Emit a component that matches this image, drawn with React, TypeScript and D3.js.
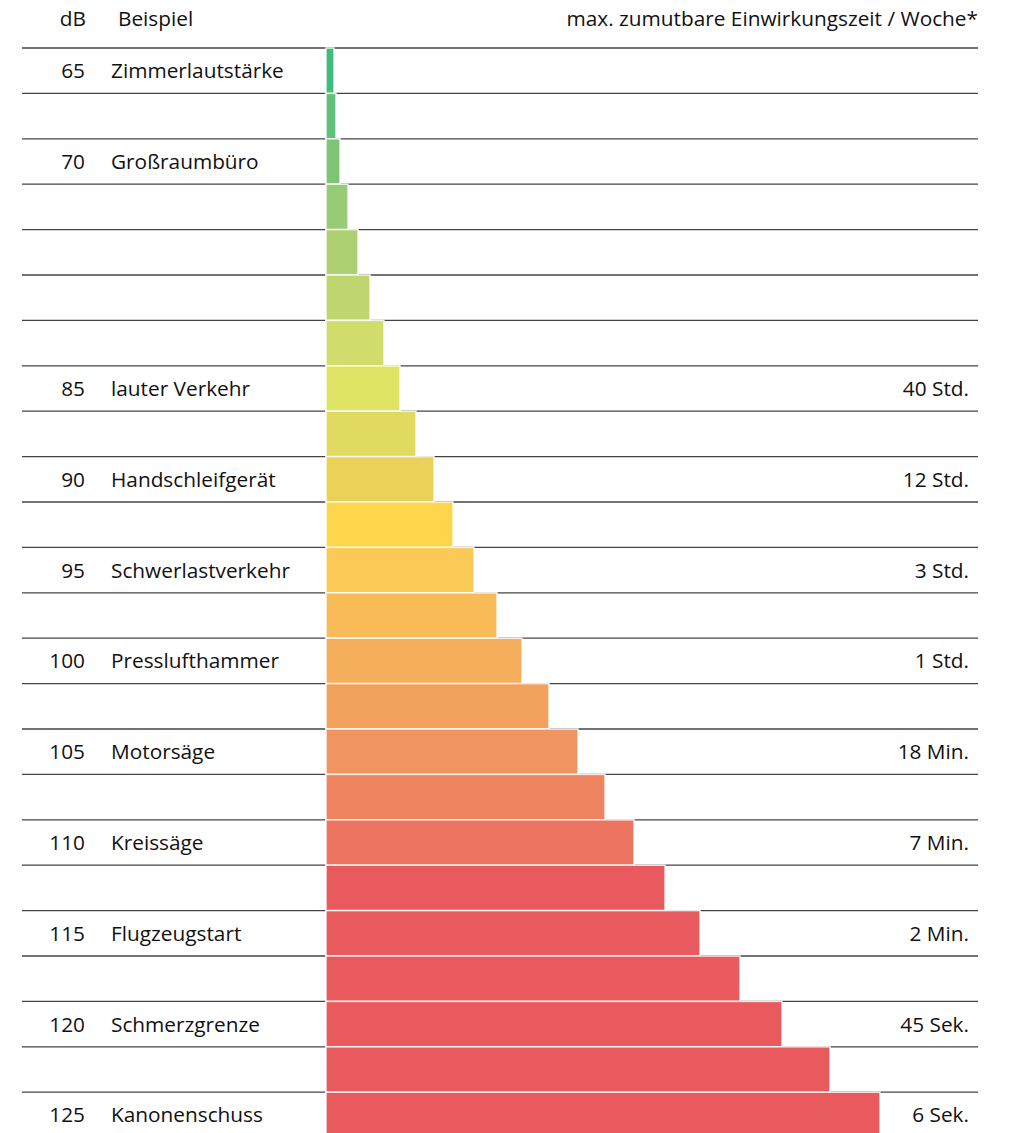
import { useEffect, useRef } from 'react';
import * as d3 from 'd3';

// rows top to bottom
const dbLabels = ['65', '', '70', '', '', '', '', '85', '', '90', '', '95', '', '100', '', '105', '', '110', '', '115', '', '120', '', '125'];
const examples = ['Zimmerlautstärke', '', 'Großraumbüro', '', '', '', '', 'lauter Verkehr', '', 'Handschleifgerät', '', 'Schwerlastverkehr', '', 'Presslufthammer', '', 'Motorsäge', '', 'Kreissäge', '', 'Flugzeugstart', '', 'Schmerzgrenze', '', 'Kanonenschuss'];
const exposure = ['', '', '', '', '', '', '', '40 Std.', '', '12 Std.', '', '3 Std.', '', '1 Std.', '', '18 Min.', '', '7 Min.', '', '2 Min.', '', '45 Sek.', '', '6 Sek.'];
// bar lengths (relative units)
const barValues = [8, 10, 14, 22, 32, 44, 58, 74, 90, 108, 127, 148, 171, 196, 223, 252, 279, 308, 339, 374, 414, 456, 504, 554];
const barColors = ['#40bd7c', '#62c07a', '#7dc477', '#97cb75', '#aed073', '#bfd570', '#d0dd6d', '#dfe464', '#e1da60', '#ecd158', '#fed64c', '#fbc955', '#f8bb58', '#f5ae5c', '#f2a25d', '#f09562', '#ef8460', '#ec7461', '#e95a5f', '#e95a5f', '#e95a5f', '#e95a5f', '#e95a5f', '#e95a5f'];

const FONT = "'Open Sans', 'Noto Sans', sans-serif";

export default function App() {
    let ref = useRef<SVGSVGElement>(null);

    useEffect(() => {
        document.body.style.margin = '0';
        const svg = d3.select(ref.current);
        svg.selectAll('*').remove();

        const rowTop = 48;
        const step = 45.4;
        const idx = d3.range(barValues.length);

        const y = d3.scaleBand<number>()
            .domain(idx)
            .range([rowTop, rowTop + step * idx.length])
            .padding(0);

        const x = d3.scaleLinear()
            .domain([0, 554])
            .range([326, 880]);

        // header
        const header = svg.append('g')
            .style('font-family', FONT)
            .style('font-size', '20.8px')
            .attr('fill', '#111');
        header.append('text').attr('x', 86).attr('y', 26).attr('text-anchor', 'end').text('dB');
        header.append('text').attr('x', 118).attr('y', 26).text('Beispiel');
        header.append('text').attr('x', 978).attr('y', 26).attr('text-anchor', 'end').text('max. zumutbare Einwirkungszeit / Woche*');

        // row lines
        svg.append('g').selectAll('line')
            .data(idx)
            .join('line')
            .attr('x1', 22)
            .attr('x2', 978)
            .attr('y1', d => y(d)!)
            .attr('y2', d => y(d)!)
            .attr('stroke', '#444')
            .attr('stroke-width', 1.3);

        // bars
        svg.append('g').selectAll('rect')
            .data(idx)
            .join('rect')
            .attr('x', x(0))
            .attr('y', d => y(d)!)
            .attr('width', d => x(barValues[d]) - x(0))
            .attr('height', y.bandwidth())
            .attr('fill', d => barColors[d])
            .attr('stroke', '#ffffff')
            .attr('stroke-opacity', 0.85)
            .attr('stroke-width', 1.5);

        const rows = svg.append('g')
            .style('font-family', FONT)
            .style('font-size', '20.8px')
            .attr('fill', '#111');

        rows.selectAll('text.db')
            .data(idx.filter(i => dbLabels[i]))
            .join('text')
            .attr('class', 'db')
            .attr('x', 85)
            .attr('y', d => y(d)! + y.bandwidth() / 2)
            .attr('dy', '0.36em')
            .attr('text-anchor', 'end')
            .text(d => dbLabels[d]);

        rows.selectAll('text.ex')
            .data(idx.filter(i => examples[i]))
            .join('text')
            .attr('class', 'ex')
            .attr('x', 111)
            .attr('y', d => y(d)! + y.bandwidth() / 2)
            .attr('dy', '0.36em')
            .text(d => examples[d]);

        rows.selectAll('text.time')
            .data(idx.filter(i => exposure[i]))
            .join('text')
            .attr('class', 'time')
            .attr('x', 969)
            .attr('y', d => y(d)! + y.bandwidth() / 2)
            .attr('dy', '0.36em')
            .attr('text-anchor', 'end')
            .text(d => exposure[d]);
    }, []);

    return <svg ref={ref} width={1011} height={1133} style={{ display: 'block', background: '#fff' }}></svg>;
}
